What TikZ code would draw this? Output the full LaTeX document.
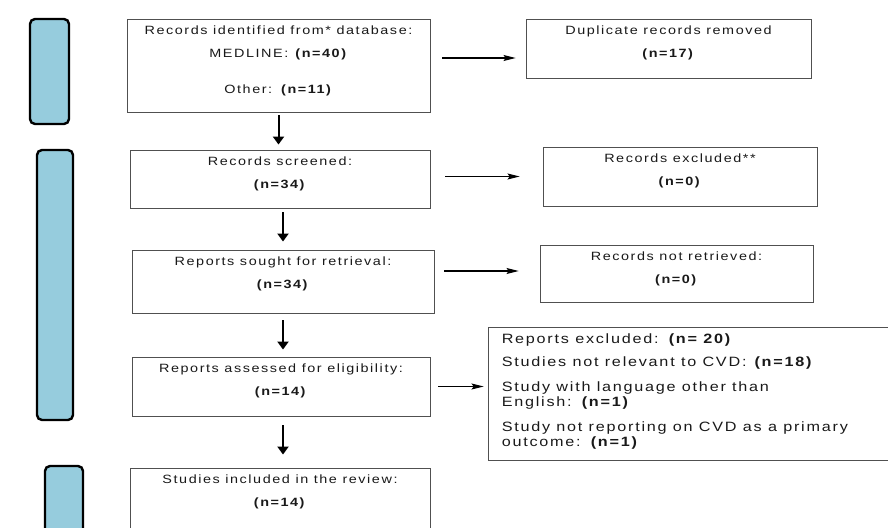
\documentclass[tikz,border=0pt]{standalone}
\usepackage{fontspec}
\setmainfont{Liberation Sans}[FakeStretch=1.2,LetterSpace=13]
\usetikzlibrary{arrows.meta}
\definecolor{stagefill}{RGB}{150,204,221}
\definecolor{boxline}{RGB}{80,80,80}
\definecolor{ink}{RGB}{25,25,25}

\begin{document}
\begin{tikzpicture}[x=1pt,y=-1pt,
    box/.style={draw=boxline,line width=0.9pt,inner sep=0pt},
    boxtext/.style={anchor=north,yshift=-7pt,align=center,inner sep=0pt,text=ink,font=\fontsize{12}{15}\selectfont},
    stagebar/.style={draw=black,line width=2.4pt,fill=stagefill,rounded corners=5pt},
    hline/.style={-{Stealth[length=12pt,width=6pt,inset=2pt]},line width=1.1pt},
    vline/.style={-{Triangle[length=8pt,width=11pt]},line width=2pt}]
  \useasboundingbox (0,0) rectangle (888,527);
  \clip (0,0) rectangle (888,527);

  % stage bars on the left
  \foreach \a/\b/\c/\d in {30/19/69/124, 37/150/73/420, 45/466/83/600}
    \draw[stagebar] (\a,\b) rectangle (\c,\d);

  % identification box
  \node[box,minimum width=303pt,minimum height=93pt,
    label={[boxtext]north:{Records identified from* database:\\[8pt]
      MEDLINE: \textbf{(n=40)}\\[21pt] Other: \textbf{(n=11)}}}] (rec) at (278.5,65.5) {};

  % two-line boxes
  \foreach \n/\x/\y/\w/\h/\t/\c in {
    scr/280/179/300/58/Records screened:/34,
    sgt/283/281.5/302/63/Reports sought for retrieval:/34,
    ass/281/386.5/298/59/Reports assessed for eligibility:/14,
    inc/280/520/300/104/Studies included in the review:/14,
    dup/668.5/48.5/285/59/Duplicate records removed/17,
    exc/680/176.5/274/59/Records excluded**/0,
    nrt/676.5/273.5/273/57/Records not retrieved:/0}
  {
    \node[box,minimum width=\w pt,minimum height=\h pt,
      label={[boxtext]north:{\t\\[8pt]\textbf{(n=\c)}}}] (\n) at (\x,\y) {};
  }

  % reports excluded
  \node[box,minimum width=412pt,minimum height=133pt,
    label={[boxtext,align=left,anchor=north west,xshift=14pt,yshift=0.5pt,
      font=\fontsize{13.5}{15}\selectfont]north west:{%
      Reports excluded: \textbf{(n= 20)}\\[8pt]
      Studies not relevant to CVD: \textbf{(n=18)}\\[10pt]
      Study with language other than\\ English: \textbf{(n=1)}\\[10pt]
      Study not reporting on CVD as a primary\\ outcome: \textbf{(n=1)}}}] (rex) at (694,393.5) {};

  % downward arrows
  \draw[vline,shorten <=3pt,shorten >=5pt] (rec.south) -- (rec.south |- scr.north);
  \draw[vline,shorten <=4pt,shorten >=8pt] (scr.south -| sgt.north) -- (sgt.north);
  \draw[vline,shorten <=7pt,shorten >=7pt] (sgt.south) -- (sgt.south |- ass.north);
  \draw[vline,shorten <=9pt,shorten >=13pt] (sgt.south |- ass.south) -- (sgt.south |- inc.north);

  % sideways arrows
  \draw[hline,shorten <=12pt,shorten >=10pt] ([yshift=7.5pt]rec.east) -- ([yshift=7.5pt]rec.east -| dup.west);
  \draw[hline,shorten <=15pt,shorten >=23pt] (scr.east |- exc.west) -- (exc.west);
  \draw[hline,shorten <=10pt,shorten >=21pt] ([yshift=2.5pt]sgt.east |- nrt.west) -- ([yshift=2.5pt]nrt.west);
  \draw[hline,shorten <=8pt,shorten >=4pt] (ass.east) -- (ass.east -| rex.west);
\end{tikzpicture}
\end{document}
